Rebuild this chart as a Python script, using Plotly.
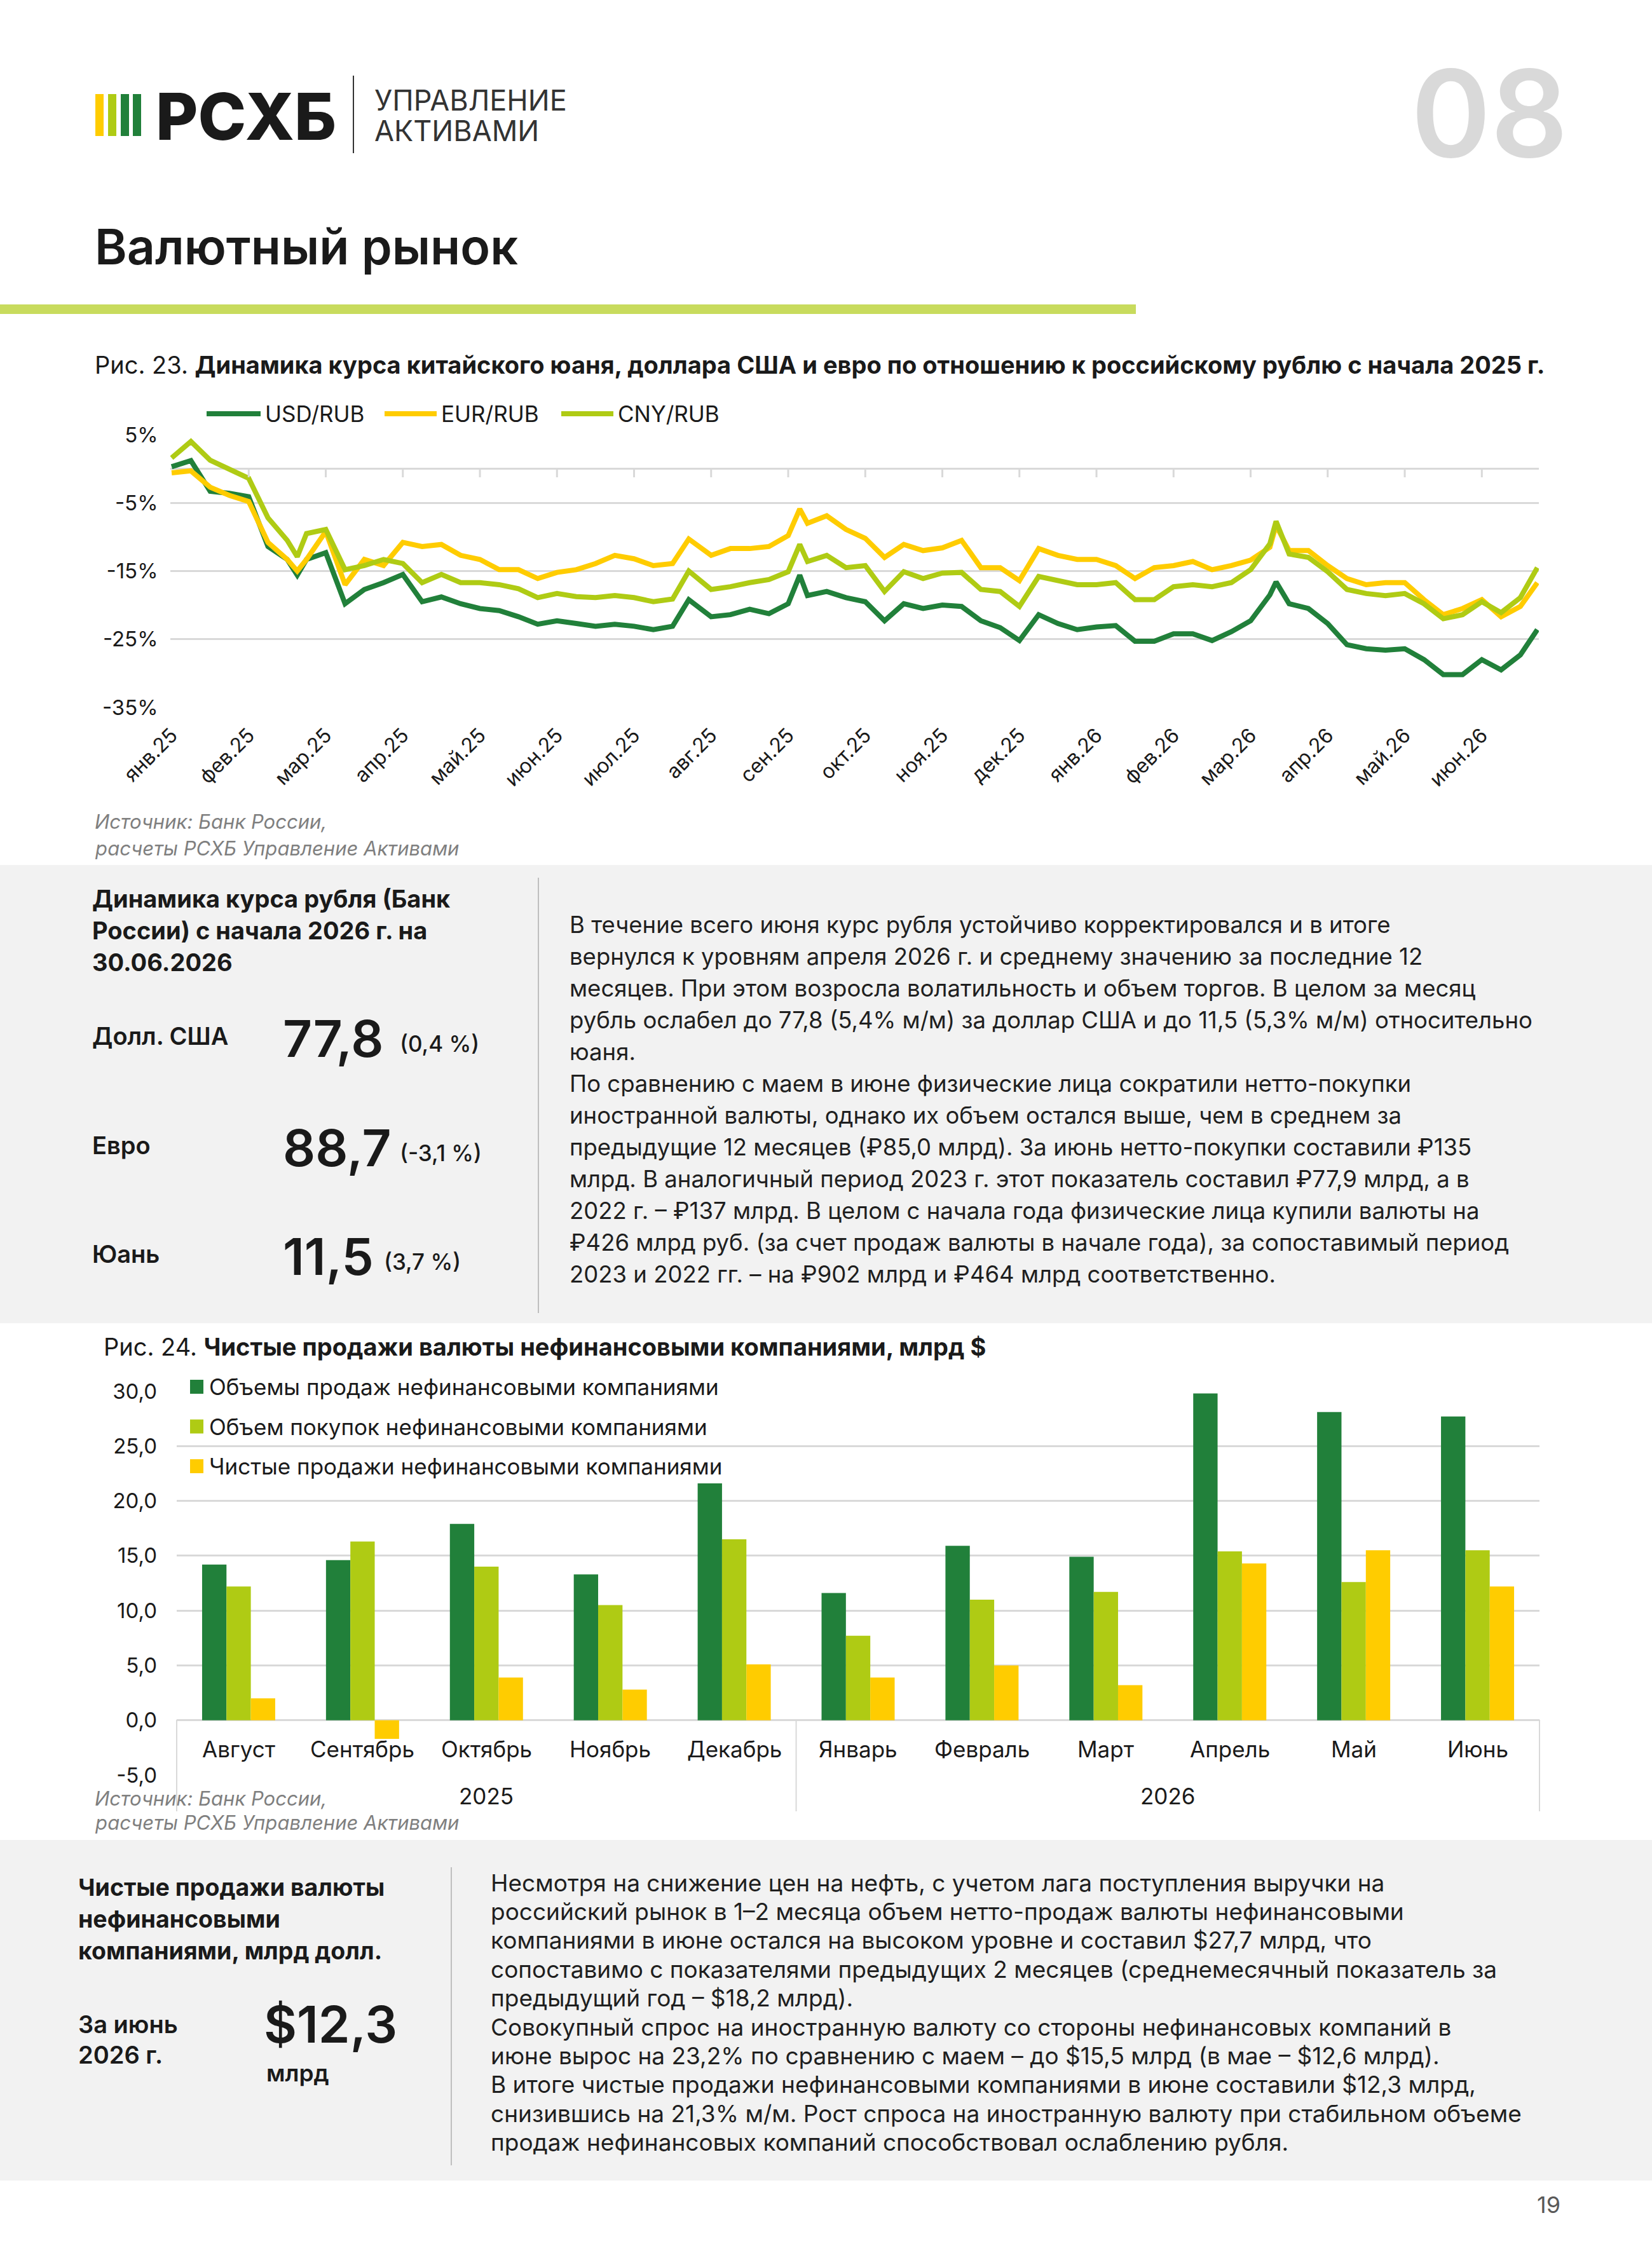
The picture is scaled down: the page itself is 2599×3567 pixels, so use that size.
import plotly.graph_objects as go

W, H = 2599, 3567
FONT = "Inter"

DARK_GREEN = "#21803A"
LIME = "#AFCB14"
YELLOW = "#FFCC00"
GRID = "#d9d9d9"
BOX = "#f2f2f2"

# %% Рис. 23 - курсы к рублю, % к началу 2025 г. (ось x: месяцы от янв.25)
month_pos = [0, 0.25, 0.5, 0.75, 1.0, 1.25, 1.5, 1.63, 1.75, 2.0, 2.25, 2.5, 2.75,
             3.0, 3.25, 3.5, 3.75, 4.0, 4.25, 4.5, 4.75, 5.0, 5.25, 5.5, 5.75, 6.0,
             6.25, 6.5, 6.71, 7.0, 7.25, 7.5, 7.75, 8.0, 8.15, 8.25, 8.5, 8.75, 9.0,
             9.25, 9.5, 9.75, 10.0, 10.25, 10.5, 10.75, 11.0, 11.25, 11.5, 11.75, 12.0,
             12.25, 12.5, 12.75, 13.0, 13.25, 13.5, 13.75, 14.0, 14.25, 14.33, 14.5,
             14.75, 15.0, 15.25, 15.5, 15.75, 16.0, 16.25, 16.5, 16.75, 17.0, 17.25,
             17.5, 17.72]

usd_rub = [0.3, 1.2, -3.3, -3.6, -4.1, -11.4, -13.3, -15.6, -13.3, -12.3, -19.8, -17.7, -16.7,
           -15.5, -19.5, -18.8, -19.8, -20.5, -20.8, -21.7, -22.8, -22.3, -22.7, -23.1, -22.8, -23.1,
           -23.6, -23.1, -19.2, -21.7, -21.4, -20.6, -21.25, -19.8, -15.6, -18.6, -18.0, -18.9, -19.5,
           -22.3, -19.8, -20.5, -20.0, -20.2, -22.3, -23.3, -25.2, -21.4, -22.7, -23.6, -23.2,
           -23.0, -25.3, -25.3, -24.2, -24.2, -25.2, -23.9, -22.3, -18.5, -16.6, -19.8,
           -20.5, -22.7, -25.8, -26.4, -26.6, -26.4, -28.0, -30.2, -30.2, -28.0, -29.5,
           -27.3, -23.6]

eur_rub = [-0.6, -0.3, -2.7, -3.9, -4.8, -10.8, -13.3, -15.0, -13.3, -9.2, -17.0, -13.3, -14.2,
           -10.8, -11.4, -11.1, -12.7, -13.3, -14.8, -14.8, -16.1, -15.2, -14.8, -13.9, -12.7, -13.2,
           -14.2, -13.9, -10.3, -12.7, -11.7, -11.7, -11.4, -9.8, -5.9, -8.0, -6.9, -8.9, -10.2,
           -13.0, -11.1, -12.0, -11.6, -10.5, -14.5, -14.5, -16.4, -11.7, -12.7, -13.3, -13.3,
           -14.2, -16.1, -14.5, -14.2, -13.6, -14.8, -14.2, -13.4, -11.5, -8.3, -12.0,
           -12.0, -14.2, -16.1, -17.0, -16.7, -16.7, -19.2, -21.4, -20.5, -19.2, -21.7,
           -20.2, -16.7]

cny_rub = [1.6, 4.0, 1.25, -0.15, -1.4, -7.2, -10.5, -12.9, -9.5, -8.9, -14.8, -14.2, -13.3,
           -13.9, -16.7, -15.5, -16.7, -16.7, -17.0, -17.6, -18.9, -18.3, -18.75, -18.9, -18.6, -18.9,
           -19.5, -19.1, -15.0, -17.7, -17.3, -16.7, -16.25, -15.1, -11.1, -13.6, -12.7, -14.5, -14.2,
           -18.0, -15.1, -16.1, -15.3, -15.2, -17.7, -18.0, -20.2, -15.8, -16.4, -17.0, -17.0,
           -16.7, -19.2, -19.2, -17.3, -17.0, -17.3, -16.7, -14.8, -11.0, -7.7, -12.5,
           -13.0, -15.1, -17.7, -18.3, -18.6, -18.3, -19.8, -22.0, -21.4, -19.5, -21.1,
           -18.9, -14.5]

month_labels = ["янв.25", "фев.25", "мар.25", "апр.25", "май.25", "июн.25", "июл.25",
                "авг.25", "сен.25", "окт.25", "ноя.25", "дек.25", "янв.26", "фев.26",
                "мар.26", "апр.26", "май.26", "июн.26"]
pct_ticks = [5, -5, -15, -25, -35]
pct_labels = ["5%", "-5%", "-15%", "-25%", "-35%"]

# %% Рис. 24 - чистые продажи валюты, млрд $
months24 = ["Август", "Сентябрь", "Октябрь", "Ноябрь", "Декабрь", "Январь",
            "Февраль", "Март", "Апрель", "Май", "Июнь"]
year_of_month = ["2025"] * 5 + ["2026"] * 6
sales = [14.2, 14.6, 17.9, 13.3, 21.6, 11.6, 15.9, 14.9, 29.8, 28.1, 27.7]
purchases = [12.2, 16.3, 14.0, 10.5, 16.5, 7.7, 11.0, 11.7, 15.4, 12.6, 15.5]
net_sales = [2.0, -1.7, 3.9, 2.8, 5.1, 3.9, 5.0, 3.2, 14.3, 15.5, 12.2]
bar_ticks = [-5, 0, 5, 10, 15, 20, 25, 30]
bar_labels = ["-5,0", "0,0", "5,0", "10,0", "15,0", "20,0", "25,0", "30,0"]

legend23 = ["USD/RUB", "EUR/RUB", "CNY/RUB"]
legend24 = ["Объемы продаж нефинансовыми компаниями",
            "Объем покупок нефинансовыми компаниями",
            "Чистые продажи нефинансовыми компаниями"]

para1 = [
    "В течение всего июня курс рубля устойчиво корректировался и в итоге",
    "вернулся к уровням апреля 2026 г. и среднему значению за последние 12",
    "месяцев. При этом возросла волатильность и объем торгов. В целом за месяц",
    "рубль ослабел до 77,8 (5,4% м/м) за доллар США и до 11,5 (5,3% м/м) относительно",
    "юаня.",
    "По сравнению с маем в июне физические лица сократили нетто-покупки",
    "иностранной валюты, однако их объем остался выше, чем в среднем за",
    "предыдущие 12 месяцев (₽85,0 млрд). За июнь нетто-покупки составили ₽135",
    "млрд. В аналогичный период 2023 г. этот показатель составил ₽77,9 млрд, а в",
    "2022 г. – ₽137 млрд. В целом с начала года физические лица купили валюты на",
    "₽426 млрд руб. (за счет продаж валюты в начале года), за сопоставимый период",
    "2023 и 2022 гг. – на ₽902 млрд и ₽464 млрд соответственно.",
]

para2 = [
    "Несмотря на снижение цен на нефть, с учетом лага поступления выручки на",
    "российский рынок в 1–2 месяца объем нетто-продаж валюты нефинансовыми",
    "компаниями в июне остался на высоком уровне и составил $27,7 млрд, что",
    "сопоставимо с показателями предыдущих 2 месяцев (среднемесячный показатель за",
    "предыдущий год – $18,2 млрд).",
    "Совокупный спрос на иностранную валюту со стороны нефинансовых компаний в",
    "июне вырос на 23,2% по сравнению с маем – до $15,5 млрд (в мае – $12,6 млрд).",
    "В итоге чистые продажи нефинансовыми компаниями в июне составили $12,3 млрд,",
    "снизившись на 21,3% м/м. Рост спроса на иностранную валюту при стабильном объеме",
    "продаж нефинансовых компаний способствовал ослаблению рубля.",
]

# %% helpers for page layout (pixel -> paper)
annotations = []
shapes = []


def px(x):
    return x / W


def py(y):
    return 1 - y / H


def add_text(x, y, s, size=34, color="#1a1a1a", weight=400, italic=False, xanchor="left"):
    annotations.append(dict(
        x=px(x), y=py(y), xref="paper", yref="paper", text=s, showarrow=False,
        xanchor=xanchor, yanchor="middle", align="left", borderpad=0,
        font=dict(family=FONT, size=size, color=color, weight=weight,
                  style="italic" if italic else "normal")))


def add_rect(x0, y0, x1, y1, color, layer="below"):
    shapes.append(dict(type="rect", xref="paper", yref="paper",
                       x0=px(x0), x1=px(x1), y0=py(y1), y1=py(y0),
                       fillcolor=color, line=dict(width=0), layer=layer))


def add_line(x0, y0, x1, y1, color, width):
    shapes.append(dict(type="line", xref="paper", yref="paper",
                       x0=px(x0), y0=py(y0), x1=px(x1), y1=py(y1),
                       line=dict(color=color, width=width)))


# %% header
add_rect(150, 148, 163, 214, YELLOW, "above")
add_rect(170, 148, 183, 214, LIME, "above")
add_rect(190, 148, 203, 214, DARK_GREEN, "above")
add_rect(209, 148, 222, 214, DARK_GREEN, "above")
add_text(244, 183, "РСХБ", size=102, weight=800)
add_line(556, 119, 556, 241, "#333333", 2)
add_text(588, 158, "УПРАВЛЕНИЕ", size=45, color="#333333")
add_text(588, 205, "АКТИВАМИ", size=45, color="#333333")
add_text(2468, 178, "08", size=190, color="#d9d9d9", weight=600, xanchor="right")
add_text(148, 388, "Валютный рынок", size=77, weight=600)
add_rect(0, 479, 1787, 494, "#C8DB5D")

# %% figure 23 texts
add_text(148, 574, "Рис. 23. <b>Динамика курса китайского юаня, доллара США и евро по "
                   "отношению к российскому рублю с начала 2025 г.</b>", size=38)
leg_x = [(325, 410), (605, 687), (883, 965)]
for (a, b), name, col in zip(leg_x, legend23, [DARK_GREEN, YELLOW, LIME]):
    add_line(a, 651, b, 651, col, 8)
    add_text(b + 6, 651, name, size=35)
add_text(148, 1293, "Источник: Банк России,", size=31, color="#7f7f7f", italic=True)
add_text(148, 1334, "расчеты РСХБ Управление Активами", size=31, color="#7f7f7f", italic=True)

# %% box 1
add_rect(0, 1361, W, 2082, BOX)
add_text(144, 1414, "<b>Динамика курса рубля (Банк</b>", size=38)
add_text(144, 1464, "<b>России) с начала 2026 г. на</b>", size=38)
add_text(144, 1514, "<b>30.06.2026</b>", size=38)
rows = [("Долл. США", "77,8", "(0,4 %)", 1630), ("Евро", "88,7", "(-3,1 %)", 1802),
        ("Юань", "11,5", "(3,7 %)", 1973)]
for name, val, chg, y in rows:
    add_text(144, y, name, size=38, weight=600)
    add_text(444, y + 3, val, size=80, weight=600)
    add_text(628 if val != "11,5" else 603, y + 12, chg, size=35, weight=500)
add_line(847, 1381, 847, 2066, "#bfbfbf", 2)
for i, line in enumerate(para1):
    add_text(895, 1455 + i * 50.0, line, size=36.5, color="#1f1f1f")

# %% figure 24 texts
add_text(162, 2119, "Рис. 24. <b>Чистые продажи валюты нефинансовыми компаниями, млрд $</b>", size=38)
for i, (name, col) in enumerate(zip(legend24, [DARK_GREEN, LIME, YELLOW])):
    yc = 2182 + i * 62.5
    add_rect(299, yc - 11, 320, yc + 11, col, "above")
    add_text(328, yc, name, size=35)

# category box below the zero line
dom2 = (278, 2422)
n_cat = len(months24)
for idx in [0, year_of_month.count("2025"), n_cat]:
    xx = dom2[0] + (dom2[1] - dom2[0]) * idx / n_cat
    add_line(xx, 2706, xx, 2850, GRID, 2)

add_text(148, 2829, "Источник: Банк России,", size=31, color="#7f7f7f", italic=True)
add_text(148, 2867, "расчеты РСХБ Управление Активами", size=31, color="#7f7f7f", italic=True)

for m in months24:
    annotations.append(dict(x=m, y=-2.6, xref="x2", yref="y2", text=m, showarrow=False,
                            xanchor="center", yanchor="middle",
                            font=dict(family=FONT, size=35, color="#1a1a1a")))
for yr in ["2025", "2026"]:
    idxs = [i for i, v in enumerate(year_of_month) if v == yr]
    annotations.append(dict(x=(idxs[0] + idxs[-1]) / 2, y=py(2826), xref="x2", yref="paper",
                            text=yr, showarrow=False, xanchor="center", yanchor="middle",
                            font=dict(family=FONT, size=35, color="#1a1a1a")))

# %% box 2
add_rect(0, 2895, W, 3431, BOX)
add_text(122, 2969, "<b>Чистые продажи валюты</b>", size=37.5)
add_text(122, 3019, "<b>нефинансовыми</b>", size=37.5)
add_text(122, 3069, "<b>компаниями, млрд долл.</b>", size=37.5)
add_text(122, 3185, "За июнь", size=38, weight=600)
add_text(122, 3233, "2026 г.", size=38, weight=600)
add_text(414, 3184, "$12,3", size=80, weight=600)
add_text(418, 3261, "млрд", size=37, weight=600)
add_line(710, 2938, 710, 3407, "#bfbfbf", 2)
for i, line in enumerate(para2):
    add_text(771, 2962 + i * 45.4, line, size=37, color="#1f1f1f")

add_text(2436, 3469, "19", size=36, color="#595959", xanchor="center")

# %% traces
fig = go.Figure()
for name, vals, col in [("USD/RUB", usd_rub, DARK_GREEN), ("EUR/RUB", eur_rub, YELLOW),
                        ("CNY/RUB", cny_rub, LIME)]:
    fig.add_trace(go.Scatter(x=month_pos, y=vals, mode="lines", name=name,
                             line=dict(color=col, width=8), xaxis="x", yaxis="y",
                             showlegend=False))

for name, vals, col in zip(legend24, [sales, purchases, net_sales], [DARK_GREEN, LIME, YELLOW]):
    fig.add_trace(go.Bar(x=months24, y=vals, name=name, marker=dict(color=col, line=dict(width=0)),
                         xaxis="x2", yaxis="y2", showlegend=False))

# month tick marks on the 0% line
for k in range(1, len(month_labels)):
    shapes.append(dict(type="line", xref="x", yref="y", x0=k, x1=k, y0=0, y1=-1.25,
                       line=dict(color=GRID, width=3)))

fig.update_layout(
    width=W, height=H, autosize=False,
    margin=dict(l=0, r=0, t=0, b=0, pad=0),
    paper_bgcolor="white", plot_bgcolor="rgba(0,0,0,0)",
    font=dict(family=FONT, size=33, color="#1a1a1a"),
    showlegend=False,
    barmode="group", bargap=0.41, bargroupgap=0,
    xaxis=dict(domain=[267.6 / W, 2421 / W], range=[-0.02, 17.74], anchor="y",
               tickvals=list(range(len(month_labels))), ticktext=month_labels,
               tickangle=-45, tickfont=dict(size=32), ticks="", showgrid=False,
               zeroline=False, showline=False, ticklabelstandoff=18, automargin=False),
    yaxis=dict(domain=[py(1113), py(684)], range=[-35, 5], anchor="x",
               tickvals=pct_ticks, ticktext=pct_labels, tickfont=dict(size=33),
               showgrid=True, gridcolor=GRID, gridwidth=3,
               zeroline=True, zerolinecolor=GRID, zerolinewidth=3,
               ticks="", showline=False, ticklabelstandoff=18, automargin=False),
    xaxis2=dict(domain=[dom2[0] / W, dom2[1] / W], anchor="y2", showticklabels=False,
                ticks="", showgrid=False, zeroline=False, showline=False, automargin=False),
    yaxis2=dict(domain=[py(2793), py(2189)], range=[-5, 30], anchor="x2",
                tickvals=bar_ticks, ticktext=bar_labels, tickfont=dict(size=33),
                showgrid=True, gridcolor=GRID, gridwidth=3,
                zeroline=True, zerolinecolor=GRID, zerolinewidth=3,
                ticks="", showline=False, ticklabelstandoff=30, automargin=False),
    annotations=annotations,
    shapes=shapes,
)

fig.write_html("out.html", config={"displayModeBar": False},
               post_script="document.body.style.margin='0px';")
